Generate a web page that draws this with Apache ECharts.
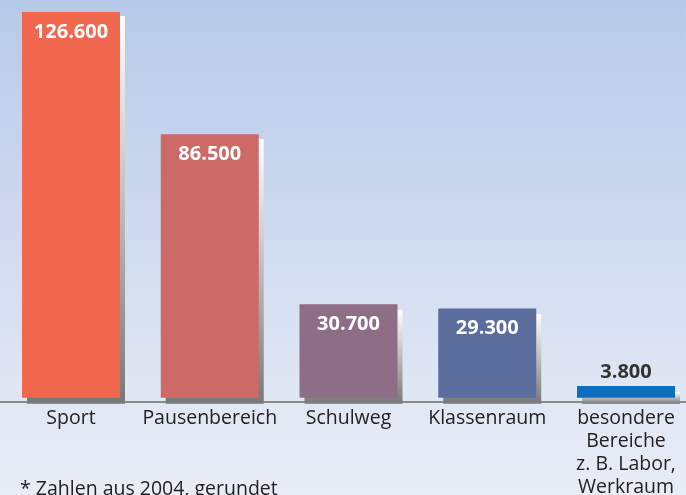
<!DOCTYPE html>
<html><head><meta charset="utf-8">
<script src="https://cdn.jsdelivr.net/npm/echarts@6/dist/echarts.min.js"></script>
<style>html,body{margin:0;padding:0;}#c{width:686px;height:495px;}</style>
</head><body><div id="c"></div>
<script>
const categories = ['Sport', 'Pausenbereich', 'Schulweg', 'Klassenraum', 'besondere\nBereiche\nz. B. Labor,\nWerkraum'];
const values = [126600, 86500, 30700, 29300, 3800];
const valueLabels = ['126.600', '86.500', '30.700', '29.300', '3.800'];
const barColors = ['#F2684F', '#CD6966', '#8E6D86', '#5A6D9D', '#0A6FBE'];
const footnote = '* Zahlen aus 2004, gerundet';

const FONT = '"Open Sans", sans-serif';
const chart = echarts.init(document.getElementById('c'));
const G = {left: 71, top: 1.7, width: 555, height: 396};
chart.setOption({
  animation: false,
  backgroundColor: new echarts.graphic.LinearGradient(0, 0, 0, 1, [
    {offset: 0, color: '#B6CAE9'},
    {offset: 0.8, color: '#E0E7F4'},
    {offset: 1, color: '#E8EDF7'}
  ]),
  grid: [
    {left: G.left, top: G.top, width: G.width, height: G.height, outerBoundsMode: 'none', containLabel: false},
    {left: G.left + 5, top: G.top + 4, width: G.width, height: G.height + 2, outerBoundsMode: 'none', containLabel: false},
    {left: 0, right: 0, top: 0, height: 402, outerBoundsMode: 'none', containLabel: false}
  ],
  xAxis: [
    {type: 'category', gridIndex: 0, data: categories, boundaryGap: false,
     axisLine: {show: false},
     axisTick: {show: false},
     axisLabel: {color: '#222', fontFamily: FONT, fontSize: 19.5, margin: 9, lineHeight: 23, interval: 0}},
    {type: 'category', gridIndex: 1, data: categories, boundaryGap: false, show: false},
    {type: 'category', gridIndex: 2, data: [''], z: 0,
     axisLine: {show: true, lineStyle: {color: '#8a8a8a', width: 2}},
     axisTick: {show: false}, axisLabel: {show: false}}
  ],
  yAxis: [
    {type: 'value', gridIndex: 0, min: 0, max: 130000, show: false},
    {type: 'value', gridIndex: 1, min: 0, max: 130000, show: false},
    {type: 'value', gridIndex: 2, show: false}
  ],
  series: [
    {type: 'bar', xAxisIndex: 1, yAxisIndex: 1, barWidth: 98, z: 1, silent: true,
     data: values,
     itemStyle: {color: new echarts.graphic.LinearGradient(0, 0, 0, 1, [
       {offset: 0, color: '#ffffff'}, {offset: 1, color: '#787878'}])}},
    {type: 'bar', xAxisIndex: 0, yAxisIndex: 0, barWidth: 98, z: 4,
     data: values.map((v, i) => ({
       value: v,
       itemStyle: {color: barColors[i]},
       label: i === 4 ? {position: 'top', distance: 4, color: '#333'} : {}
     })),
     label: {show: true, position: 'insideTop', distance: 10,
       fontFamily: FONT, fontWeight: 'bold', fontSize: 20, color: '#fff',
       formatter: p => valueLabels[p.dataIndex]}}
  ],
  graphic: [
    {type: 'text', left: 20, top: 479, z: 10,
     style: {text: footnote, fill: '#222', font: '19.5px "Open Sans", sans-serif'}}
  ]
});
</script></body></html>
